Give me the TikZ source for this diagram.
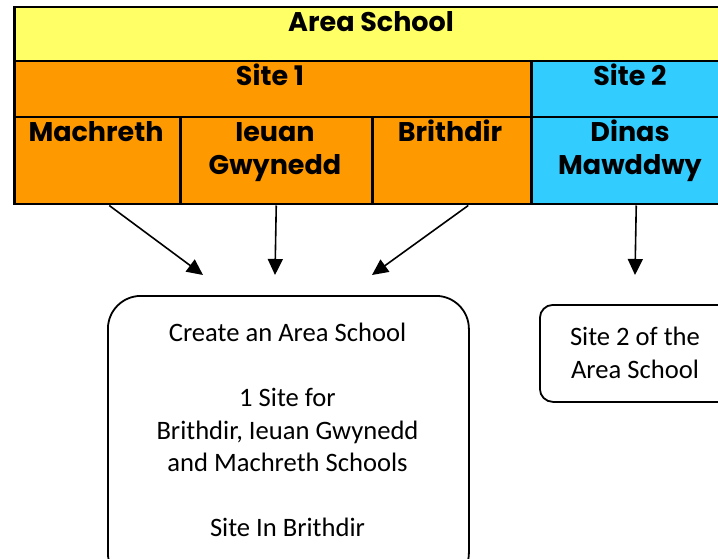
\documentclass[tikz,border=0pt]{standalone}
\usepackage{fontspec}
\setmainfont{Carlito}
\newfontfamily\hfont{Poppins}
\usetikzlibrary{arrows.meta}
\definecolor{ayellow}{HTML}{FFFF66}
\definecolor{aorange}{HTML}{FF9900}
\definecolor{ablue}{HTML}{33CCFF}
\begin{document}
\begin{tikzpicture}[x=1pt,y=-1pt,
  cell/.style={draw, line width=2.5pt, inner sep=0pt, anchor=north west},
  head/.style={font=\hfont\bfseries\fontsize{27}{33}\selectfont, inner sep=0pt, align=center},
  body/.style={font=\fontsize{26.6}{32.5}\selectfont, inner sep=0pt, align=center},
  rbox/.style={draw, line width=1.8pt, inner sep=0pt, anchor=north west},
  arr/.style={line width=1.6pt, -{Triangle[length=16pt,width=15pt]}}]
\useasboundingbox (0,0) rectangle (718,559);
% table cells
\node[cell, fill=ayellow, minimum width=717pt, minimum height=54pt] (area) at (13,6) {};
\node[cell, fill=aorange, minimum width=517pt, minimum height=56pt] (site1) at (13,60) {};
\node[cell, fill=ablue, minimum width=200pt, minimum height=56pt] (site2) at (530,60) {};
\node[cell, fill=aorange, minimum width=166pt, minimum height=87pt] (mach) at (13,116) {};
\node[cell, fill=aorange, minimum width=192pt, minimum height=87pt] (ieuan) at (179,116) {};
\node[cell, fill=aorange, minimum width=159pt, minimum height=87pt] (brith) at (371,116) {};
\node[cell, fill=ablue, minimum width=200pt, minimum height=87pt] (dinas) at (530,116) {};
% table texts
\node[head, anchor=base] (tarea) at (371,32) {Area School};
\node[head, anchor=base] (tsite1) at (270,86) {Site 1};
\node[head, anchor=base] (tsite2) at (630,86) {Site 2};
\node[head, anchor=base] (tmach) at (96,142) {Machreth};
\node[head, anchor=north] (tieuan) at (275,122) {Ieuan\\Gwynedd};
\node[head, anchor=base] (tbrith) at (450,142) {Brithdir};
\node[head, anchor=north] (tdinas) at (630,120) {Dinas\\Mawddwy};
% rounded boxes
\node[rbox, rounded corners=33pt, minimum width=361pt, minimum height=290pt] (box1) at (107,295) {};
\node[rbox, rounded corners=13pt, minimum width=192pt, minimum height=97pt] (box2) at (539,304) {};
\node[body, anchor=north] (tbox1) at (287.5,323) {Create an Area School\\[32.5pt]1 Site for\\Brithdir, Ieuan Gwynedd\\and Machreth Schools\\[32.5pt]Site In Brithdir};
\node[body, anchor=north] (tbox2) at (635,327) {Site 2 of the\\Area School};
% arrow ends
\coordinate (e1) at (203,275);
\coordinate (e2) at (275,275);
\coordinate (e3) at (372,275);
\coordinate (e4) at (635,275);
\draw[arr] ([xshift=12pt]mach.south) -- (e1);
\draw[arr] (ieuan.south) -- (e2);
\draw[arr] ([xshift=16.5pt]brith.south) -- (e3);
\draw[arr] ([xshift=5pt]dinas.south) -- (e4);
\end{tikzpicture}
\end{document}
